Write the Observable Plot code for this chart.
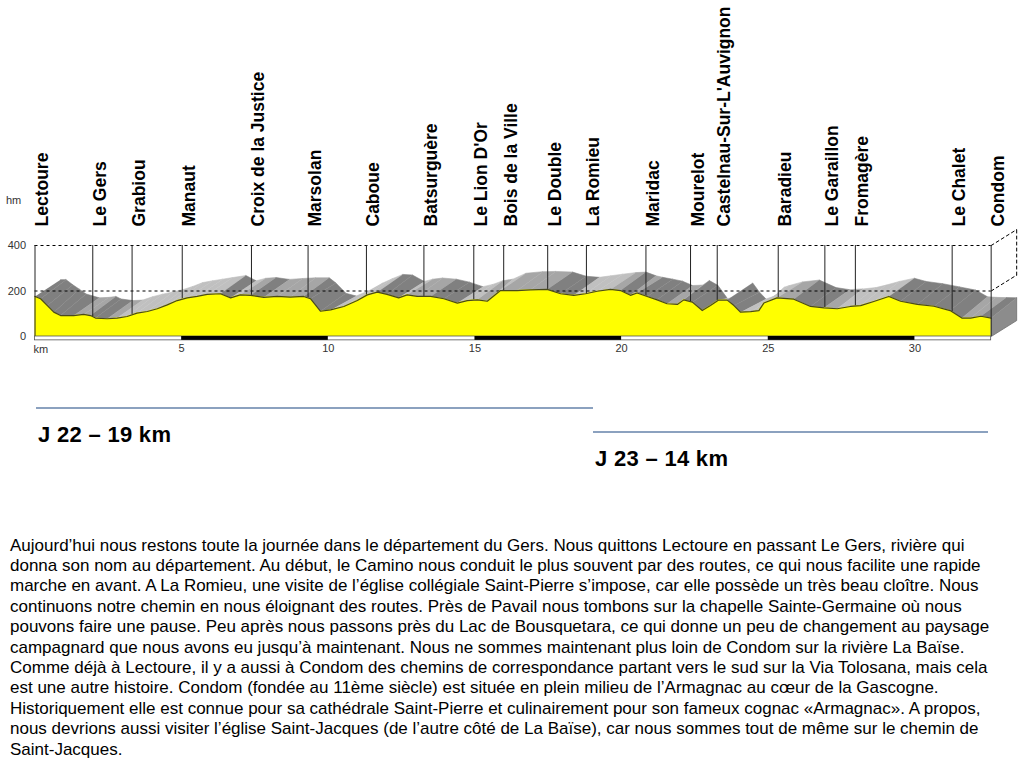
<!DOCTYPE html>
<html><head><meta charset="utf-8">
<script src="https://cdn.jsdelivr.net/npm/d3@7"></script>
<script src="https://cdn.jsdelivr.net/npm/@observablehq/plot@0.6"></script>
<style>
body{margin:0;background:#fff;font-family:"Liberation Sans",Arial,sans-serif;}
#wrap{position:relative;width:1024px;height:768px;overflow:hidden;background:#fff;}
#chart{position:absolute;left:0;top:0;}
.rule{position:absolute;height:1.5px;background:#8ba1bf;}
.day{position:absolute;font-weight:bold;font-size:22px;line-height:22px;letter-spacing:0.3px;color:#000;white-space:nowrap;}
#para{position:absolute;left:10px;top:535.5px;font-size:17px;line-height:20.4px;color:#000;white-space:nowrap;}
.hm{position:absolute;left:6px;top:194px;font-size:11px;color:#333;}
</style></head>
<body><div id="wrap">
<div id="chart"></div>
<div class="hm">hm</div>
<div class="rule" style="left:36px;top:407px;width:557px"></div>
<div class="day" style="left:38px;top:424px">J 22 – 19 km</div>
<div class="rule" style="left:593px;top:431px;width:395px"></div>
<div class="day" style="left:595px;top:448px">J 23 – 14 km</div>
<div id="para"></div>
</div>
<script>
// Profile (front edge): distance in km, elevation in m
const km = [0.00,0.19,0.42,0.64,0.87,1.32,1.66,1.89,2.06,2.46,2.80,3.14,3.48,3.83,4.17,4.51,4.85,5.19,5.53,5.87,6.32,6.67,7.00,7.35,7.80,8.26,8.70,9.16,9.39,9.73,10.08,10.53,10.99,11.33,11.67,12.00,12.40,12.69,13.03,13.49,13.94,14.40,14.74,15.08,15.42,15.87,16.44,16.89,17.46,17.92,18.37,18.77,19.17,19.62,19.96,20.30,20.53,20.87,21.21,21.55,21.90,22.12,22.41,22.75,23.03,23.31,23.60,23.83,24.05,24.40,24.68,24.85,25.30,25.87,26.44,26.90,27.35,27.80,28.15,28.60,29.11,29.51,30.08,30.65,31.20,31.60,31.90,32.25,32.60];
const elev = [176,166,136,107,92,92,97,92,81,78,81,88,103,110,122,139,158,170,176,185,188,170,183,181,172,176,173,176,166,111,117,132,158,183,195,185,170,183,176,176,166,147,158,161,155,202,202,205,207,188,181,188,199,207,202,181,191,176,161,144,141,161,151,114,136,160,160,136,107,109,114,147,170,164,132,126,122,132,136,154,176,155,141,133,114,81,81,89,81];
// Back edge of the 3D terrain strip (grey), same km positions shifted back
const back = [250,250,227,208,187,170,172,176,165,158,160,175,186,196,206,220,237,245,252,259,268,245,256,259,251,255,258,258,235,190,178,202,235,255,273,270,242,252,257,252,239,219,229,245,252,278,285,286,283,265,260,267,274,281,283,267,260,252,243,224,226,246,225,165,140,180,235,195,165,180,217,224,240,248,215,206,209,215,226,242,256,242,232,218,204,175,172,171,170];

const places = ["Lectoure","Le Gers","Grabiou","Manaut","Croix de la Justice","Marsolan","Caboue","Batsurguère","Le Lion D'Or","Bois de la Ville","Le Double","La Romieu","Maridac","Mourelot","Castelnau-Sur-L'Auvignon","Baradieu","Le Garaillon","Fromagère","Le Chalet","Condom"];
const placeKm = [0,1.97,3.31,5.02,7.38,9.31,11.30,13.26,14.96,15.98,17.48,18.80,20.83,22.35,23.26,25.34,26.93,27.97,31.27,32.6];
const placeElev = [176,88,95,165,181,170,180,176,160,202,207,188,178,153,158,170,126,134,110,81];

const yTicks = [0,200,400];
const xTicks = [5,10,15,20,25,30];
const barStart = [5,15,25];
const barEnd = [10,20,30];

const paragraph = [
"Aujourd’hui nous restons toute la journée dans le département du Gers. Nous quittons Lectoure en passant Le Gers, rivière qui",
"donna son nom au département. Au début, le Camino nous conduit le plus souvent par des routes, ce qui nous facilite une rapide",
"marche en avant. A La Romieu, une visite de l’église collégiale Saint-Pierre s’impose, car elle possède un très beau cloître. Nous",
"continuons notre chemin en nous éloignant des routes. Près de Pavail nous tombons sur la chapelle Sainte-Germaine où nous",
"pouvons faire une pause. Peu après nous passons près du Lac de Bousquetara, ce qui donne un peu de changement au paysage",
"campagnard que nous avons eu jusqu’à maintenant. Nous ne sommes maintenant plus loin de Condom sur la rivière La Baïse.",
"Comme déjà à Lectoure, il y a aussi à Condom des chemins de correspondance partant vers le sud sur la Via Tolosana, mais cela",
"est une autre histoire. Condom (fondée au 11ème siècle) est située en plein milieu de l’Armagnac au cœur de la Gascogne.",
"Historiquement elle est connue pour sa cathédrale Saint-Pierre et culinairement pour son fameux cognac «Armagnac». A propos,",
"nous devrions aussi visiter l’église Saint-Jacques (de l’autre côté de La Baïse), car nous sommes tout de même sur le chemin de",
"Saint-Jacques."
];

const para = document.getElementById("para");
paragraph.forEach(t => { const d = document.createElement("div"); d.textContent = t; para.appendChild(d); });

const off = 0.87, dz = 70;
const endKm = km[km.length-1];
const front = km.map((k,i) => ({x:k, y:elev[i]}));

const quads = [];
for (let i = 0; i < km.length-1; i++) {
  const s = ((back[i+1]-back[i]) + (elev[i+1]-elev[i])) / (km[i+1]-km[i]) / 2;
  const c = s > 12 ? "#c0c0c0" : s > -8 ? "#a6a6a6" : "#808080";
  quads.push({id:i,c,x:km[i],y:elev[i]},{id:i,c,x:km[i+1],y:elev[i+1]},{id:i,c,x:km[i+1]+off,y:back[i+1]},{id:i,c,x:km[i]+off,y:back[i]});
}
const cap = [{x:endKm,y:elev[elev.length-1]},{x:endKm,y:0},{x:endKm+off,y:dz},{x:endKm+off,y:back[back.length-1]}];
const frame3d = [
  {id:0,x:endKm,y:yTicks[2]},{id:0,x:endKm+off,y:yTicks[2]+dz},
  {id:1,x:endKm,y:yTicks[1]},{id:1,x:endKm+off,y:yTicks[1]+dz},
  {id:2,x:endKm+off,y:yTicks[1]+dz},{id:2,x:endKm+off,y:yTicks[2]+dz}
];

const chart = Plot.plot({
  width: 1024, height: 365,
  marginLeft: 34.5, marginRight: 4, marginTop: 245, marginBottom: 29,
  x: {domain: [0, 33.6], label: null},
  y: {domain: [0, 400], label: null},
  color: {type: "identity"},
  style: {fontFamily: "'Liberation Sans', Arial, sans-serif", background: "white", overflow: "visible"},
  marks: [
    Plot.line(quads, {x:"x", y:"y", z:"id", fill:"c", stroke:"c", strokeWidth:0.6}),
    Plot.line(cap, {x:"x", y:"y", fill:"#8c8c8c", stroke:"#6e6e6e", strokeWidth:0.8}),
    Plot.ruleY([yTicks[1], yTicks[2]], {x1:0, x2:endKm, stroke:"#000", strokeWidth:1, strokeDasharray:"3,3"}),
    Plot.line(frame3d, {x:"x", y:"y", z:"id", stroke:"#000", strokeWidth:1, strokeDasharray:"3,3"}),
    Plot.ruleX(placeKm.slice(1, -1), {x: d => d, y1: (d,i) => placeElev[i+1], y2: 400, stroke:"#222", strokeWidth:1}),
    Plot.areaY(front, {x:"x", y:"y", fill:"#ffff00"}),
    Plot.line(front, {x:"x", y:"y", stroke:"#4a4a1a", strokeWidth:1.2}),
    Plot.ruleX([0, endKm], {y1:0, y2:400, stroke:"#222", strokeWidth:1}),
    Plot.rect([0], {x1:0, x2:endKm, y1:0, y2:-17, fill:"white", stroke:"#555", strokeWidth:0.8}),
    Plot.rect(barStart, {x1: d => d, x2: (d,i) => barEnd[i], y1:0, y2:-17, fill:"black"}),
    Plot.axisY(yTicks, {tickSize:0, tickPadding:9, fontSize:11, fill:"#333", label:null}),
    Plot.axisX(xTicks, {tickSize:0, tickPadding:8, fontSize:11, fill:"#333", label:null}),
    Plot.text(["km"], {x:0, y:0, dy:13, dx:-1.5, textAnchor:"start", fontSize:11, fill:"#333"}),
    Plot.text(places, {x:(d,i)=>placeKm[i], y:400, dx:13, dy:-19, rotate:-90, textAnchor:"start", lineAnchor:"bottom", fontSize:17.5, fontWeight:"bold", fill:"#000"})
  ]
});
document.getElementById("chart").appendChild(chart);
</script>
</body></html>
